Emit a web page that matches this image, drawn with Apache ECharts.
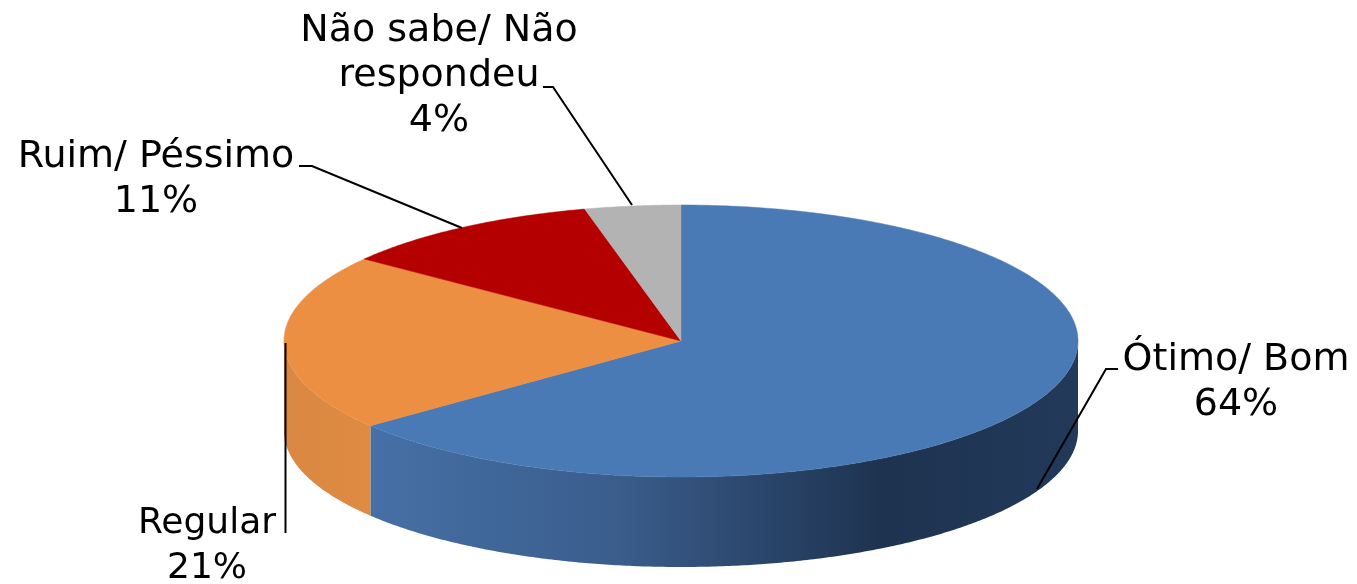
<!DOCTYPE html>
<html>
<head>
<meta charset="utf-8">
<style>html,body{margin:0;padding:0;background:#fff}#c{width:1357px;height:584px}</style>
<script src="https://cdn.jsdelivr.net/npm/echarts@6/dist/echarts.min.js"></script>
</head>
<body>
<div id="c"></div>
<script>
const categories = ['Ótimo/ Bom', 'Regular', 'Ruim/ Péssimo', 'Não sabe/ Não\nrespondeu'];
const values = [64.3, 21, 10.8, 3.9];
const topColors = ['#4a7ab5', '#ec8f43', '#b50000', '#b3b3b3'];

// Layout of the tilted disc
const CX = 681, CY = 341, RX = 397, RY = 136, DEPTH = 90;
const labelCenters = [[1236, 383], [207, 546], [156, 180], [439, 76]];
const labelSizes = [38, 36, 38, 38];
const leaders = [
  [[1118, 369], [1106, 369], [1037, 489]],
  [[285.5, 343], [285.5, 533]],
  [[299, 166], [312, 166], [462, 228]],
  [[543, 87], [553, 87], [632, 205]]
];
const sideFill = [
  { type: 'linear', x: 370, y: 0, x2: 1078, y2: 0, global: true, colorStops: [
    { offset: 0, color: '#4670a6' }, { offset: 0.35, color: '#3a5d8c' },
    { offset: 0.72, color: '#1e3350' }, { offset: 1, color: '#22395a' }] },
  { type: 'linear', x: 285, y: 0, x2: 370, y2: 0, global: true, colorStops: [
    { offset: 0, color: '#d98742' }, { offset: 1, color: '#e08b42' }] },
  null, null
];

const total = values.reduce((a, b) => a + b, 0);
const pt = (deg, dy) => {
  const r = deg * Math.PI / 180;
  return [CX + RX * Math.sin(r), CY - RY * Math.cos(r) + (dy || 0)];
};
const arc = (a, b, dy) => {
  const out = [];
  const n = Math.max(2, Math.ceil(Math.abs(b - a) * 2));
  for (let i = 0; i <= n; i++) out.push(pt(a + (b - a) * i / n, dy));
  return out;
};

function renderItem(params, api) {
  const i = params.dataIndex;
  let before = 0;
  for (let k = 0; k < i; k++) before += values[k];
  const a0 = before / total * 360;
  const a1 = (before + api.value(0)) / total * 360;
  const children = [];
  // visible front wall: clockwise angles between 90 and 270
  const s0 = Math.max(a0, 90), s1 = Math.min(a1, 270);
  if (s1 > s0) {
    children.push({
      type: 'polygon',
      shape: { points: arc(s0, s1, 0).concat(arc(s1, s0, DEPTH)) },
      style: { fill: sideFill[i], stroke: null }
    });
  }
  children.push({
    type: 'polygon',
    z2: 5,
    shape: { points: [[CX, CY]].concat(arc(a0, a1, 0)) },
    style: { fill: topColors[i], stroke: topColors[i], lineWidth: 0.5 }
  });
  children.push({
    type: 'polyline',
    z2: 10,
    shape: { points: leaders[i] },
    style: { fill: null, stroke: '#000', lineWidth: 2 }
  });
  children.push({
    type: 'text',
    z2: 10,
    style: {
      x: labelCenters[i][0], y: labelCenters[i][1],
      text: categories[i] + '\n' + Math.round(api.value(0)) + '%',
      align: 'center', verticalAlign: 'middle',
      font: labelSizes[i] + 'px "DejaVu Sans"', lineHeight: 45, fill: '#000'
    }
  });
  return { type: 'group', children };
}

const chart = echarts.init(document.getElementById('c'), null, { renderer: 'canvas' });
chart.setOption({
  animation: false,
  backgroundColor: '#fff',
  series: [{
    type: 'custom',
    coordinateSystem: 'none',
    renderItem,
    data: values.map((v, i) => ({ name: categories[i], value: [v] }))
  }]
});
</script>
</body>
</html>
